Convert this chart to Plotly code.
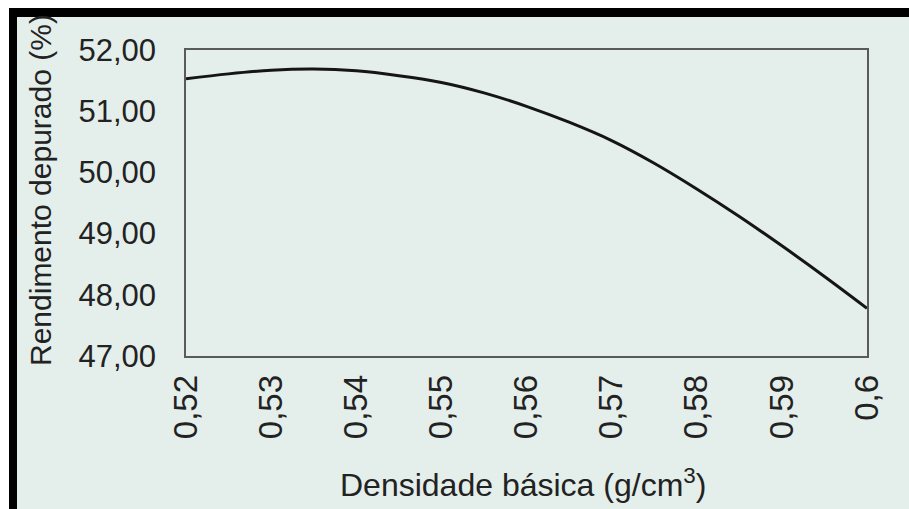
import plotly.graph_objects as go

# Data
densidade = [0.52, 0.525, 0.53, 0.535, 0.54, 0.545, 0.55, 0.555, 0.56, 0.565,
             0.57, 0.575, 0.58, 0.585, 0.59, 0.595, 0.60]
rendimento = [51.53, 51.61, 51.67, 51.69, 51.66, 51.58, 51.47, 51.30, 51.08, 50.82,
              50.52, 50.15, 49.73, 49.28, 48.80, 48.30, 47.78]
x_ticks = [0.52, 0.53, 0.54, 0.55, 0.56, 0.57, 0.58, 0.59, 0.60]
x_labels = ["0,52", "0,53", "0,54", "0,55", "0,56", "0,57", "0,58", "0,59", "0,6"]
y_ticks = [47, 48, 49, 50, 51, 52]
y_labels = ["47,00", "48,00", "49,00", "50,00", "51,00", "52,00"]

W, H = 909, 509
L, R, T, B = 186, 42, 50, 153
pw, ph = W - L - R, H - T - B

def px(x):
    return (x - L) / pw

def py(y):
    return (H - B - y) / ph

bg = "#e4eeea"
txt = "#222222"
font = "Liberation Sans, Arial, sans-serif"

fig = go.Figure()
fig.add_trace(go.Scatter(x=densidade, y=rendimento, mode="lines",
                         line=dict(color="#151515", width=3, shape="spline"),
                         showlegend=False))

fig.update_layout(
    width=W, height=H,
    margin=dict(l=L, r=R, t=T, b=B),
    paper_bgcolor=bg, plot_bgcolor=bg,
    xaxis=dict(range=[0.52, 0.60], tickvals=x_ticks, ticktext=x_labels,
               tickangle=-90, showgrid=False, zeroline=False,
               showline=True, mirror=True, linecolor="#5a5a5a", linewidth=1.5,
               ticks="", ticklabelstandoff=4,
               tickfont=dict(family=font, size=33, color=txt)),
    yaxis=dict(range=[47, 52], tickvals=y_ticks, ticktext=y_labels,
               showgrid=False, zeroline=False,
               showline=True, mirror=True, linecolor="#5a5a5a", linewidth=1.5,
               ticks="", ticklabelstandoff=22,
               tickfont=dict(family=font, size=31, color=txt)),
    annotations=[
        dict(text="Densidade básica (g/cm<sup>3</sup>)", xref="paper", yref="paper",
             x=px(523), y=py(483), xanchor="center", yanchor="middle",
             showarrow=False, font=dict(family=font, size=32, color=txt)),
        dict(text="Rendimento depurado (%)", xref="paper", yref="paper",
             x=px(40), y=py(190), xanchor="center", yanchor="middle", textangle=-90,
             showarrow=False, font=dict(family=font, size=30, color=txt)),
    ],
    shapes=[
        dict(type="rect", xref="paper", yref="paper", x0=px(0), x1=px(W), y0=py(8), y1=py(0),
             fillcolor="white", line=dict(width=0), layer="above"),
        dict(type="rect", xref="paper", yref="paper", x0=px(0), x1=px(9), y0=py(H), y1=py(0),
             fillcolor="white", line=dict(width=0), layer="above"),
        dict(type="rect", xref="paper", yref="paper", x0=px(9), x1=px(W), y0=py(17), y1=py(8),
             fillcolor="black", line=dict(width=0), layer="above"),
        dict(type="rect", xref="paper", yref="paper", x0=px(9), x1=px(17), y0=py(H), y1=py(8),
             fillcolor="black", line=dict(width=0), layer="above"),
    ],
)

fig.write_html("out.html")
